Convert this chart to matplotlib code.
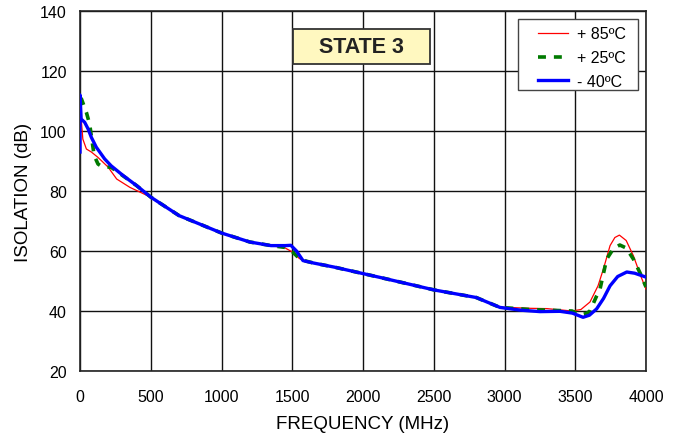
import matplotlib
matplotlib.use("Agg")
import matplotlib.pyplot as plt
from matplotlib.patches import Rectangle

plt.rcParams['font.family'] = ['Liberation Sans', 'DejaVu Sans']

# -40C trace
freq_blue = [0, 0, 8, 33, 57, 80, 115, 174, 220, 306, 400, 502, 700, 1000, 1200,
             1350, 1450, 1490, 1530, 1576, 1650, 1800, 2120, 2505, 2800, 2968,
             3110, 3251, 3392, 3480, 3555, 3600, 3651, 3700, 3746, 3800, 3864,
             3920, 4000]
iso_blue = [93, 112, 104, 102.9, 100.7, 97.9, 94.6, 90.7, 88.4, 85.1, 81.8, 77.9,
            71.8, 66, 63, 61.8, 61.8, 61.9, 60, 56.8, 56, 54.6, 51.2, 47, 44.5,
            41.2, 40.3, 39.8, 39.9, 39.3, 37.9, 38.6, 40.7, 44.2, 48.4, 51.5, 53,
            52.6, 51.3]

# +85C trace
freq_red = [0, 10, 20, 45, 80, 127, 198, 259, 353, 502, 700, 1000, 1200, 1350,
            1450, 1500, 1550, 1600, 1650, 1800, 2120, 2505, 2800, 2968, 3180,
            3300, 3477, 3540, 3604, 3661, 3699, 3746, 3780, 3812, 3860, 3911,
            3960, 4000]
iso_red = [103, 103, 97.3, 94, 93, 91.2, 88, 84, 81.2, 77.9, 71.8, 66, 63, 61.8,
           61, 59.7, 57.5, 56.5, 56, 54.6, 51.2, 47, 44.5, 41.3, 40.9, 40.8, 40,
           40.5, 43, 48.4, 54, 61.8, 64.5, 65.3, 63.5, 58.4, 52, 47.3]

# +25C trace
freq_green = [0, 10, 45, 68, 100, 127, 153, 220, 306, 400, 502, 700, 1000, 1200,
              1350, 1450, 1500, 1550, 1600, 1650, 1800, 2120, 2505, 2800, 2968,
              3180, 3300, 3477, 3540, 3580, 3604, 3651, 3675, 3722, 3770, 3815,
              3860, 3911, 3960, 4000]
iso_green = [111, 110.7, 106.2, 102.3, 91.8, 89, 88.2, 87.9, 85, 81.8, 77.9, 71.8,
             66, 63, 61.8, 61.2, 59.8, 57.5, 56.6, 56, 54.6, 51.2, 47, 44.5, 41.2,
             40.5, 40.3, 40, 38.7, 39.2, 40, 45, 47.3, 57.3, 60.8, 62, 61, 57.3,
             52.5, 48]

x_ticks = [0, 500, 1000, 1500, 2000, 2500, 3000, 3500, 4000]
y_ticks = [20, 40, 60, 80, 100, 120, 140]

fig = plt.figure(figsize=(6.81, 4.35), dpi=100)
ax = fig.add_axes([0.1175, 0.1448, 0.8311, 0.8276])

ax.plot(freq_red, iso_red, color='#ff0000', lw=0.9, label='+ 85ºC', zorder=3)
ax.plot(freq_green, iso_green, color='#007a00', lw=2.6, linestyle=(0, (2.2, 2.2)),
        label='+ 25ºC', zorder=4)
ax.plot(freq_blue, iso_blue, color='#0000ff', lw=2.4, label='- 40ºC', zorder=5)

ax.set_xlim(0, 4000)
ax.set_ylim(20, 140)
ax.set_xticks(x_ticks)
ax.set_yticks(y_ticks)
ax.tick_params(length=0, labelsize=11.5)
ax.tick_params(axis='x', pad=13)
ax.tick_params(axis='y', pad=9.5)
ax.grid(True, color='#111111', lw=1.0)
for s in ax.spines.values():
    s.set_linewidth(1.2)
    s.set_color('#222222')

ax.set_xlabel('FREQUENCY (MHz)', fontsize=13.5, labelpad=8)
ax.set_ylabel('ISOLATION (dB)', fontsize=13.5, labelpad=6)

# STATE 3 tag
ax.add_patch(Rectangle((0.376, 0.853), 0.242, 0.097, transform=ax.transAxes,
                       facecolor='#fff8c0', edgecolor='#333333', lw=1.3, zorder=6))
ax.text(0.497, 0.902, 'STATE 3', transform=ax.transAxes, ha='center', va='center',
        fontsize=15.5, fontweight='bold', color='#222222', zorder=7)

# legend with a hand-placed frame
ax.add_patch(Rectangle((0.774, 0.781), 0.212, 0.197, transform=ax.transAxes,
                       facecolor='white', edgecolor='#444444', lw=1.0, zorder=8))
leg = ax.legend(loc='upper left', bbox_to_anchor=(0.809, 0.957), fontsize=11.5,
                handlelength=1.9, handletextpad=0.55, borderaxespad=0,
                borderpad=0, frameon=False, labelspacing=0.55)
leg.set_zorder(9)

fig.savefig('out.png', dpi=100)
